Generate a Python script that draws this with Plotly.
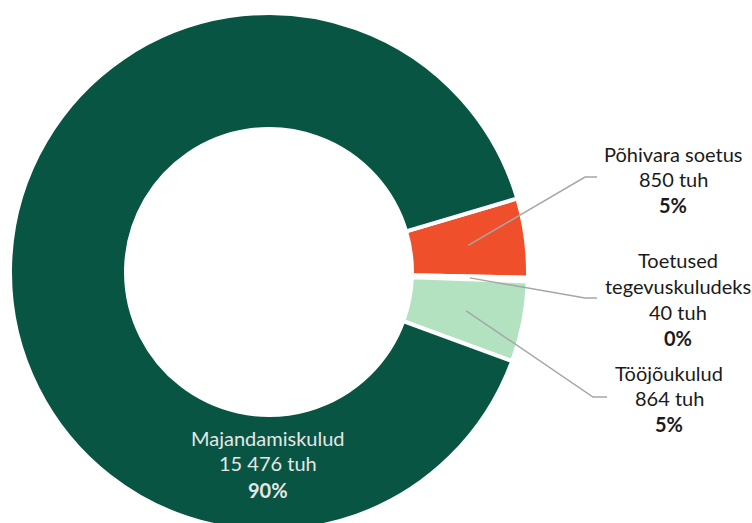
import math
import plotly.graph_objects as go

# ---- data ----
labels = ["Põhivara soetus", "Toetused tegevuskuludeks", "Tööjõukulud", "Majandamiskulud"]
label_lines = [["Põhivara soetus"], ["Toetused", "tegevuskuludeks"], ["Tööjõukulud"], ["Majandamiskulud"]]
values = [850, 40, 864, 15476]
colors = ["#F04F2B", "#E6E6E6", "#B2E2BF", "#085544"]

W, H = 752, 531
ROT = 73.5
HOLE = 0.552
# pie geometry in pixels (layout)
CX, CY, R = 269, 272, 259

total = sum(values)

def fmt(v):
    return f"{v:,}".replace(",", " ")

def pct(v):
    return f"{round(v / total * 100)}%"

fig = go.Figure(go.Pie(
    labels=labels,
    values=values,
    hole=HOLE,
    sort=False,
    direction="clockwise",
    rotation=ROT,
    textinfo="none",
    hoverinfo="label+value+percent",
    marker=dict(colors=colors, line=dict(color="white", width=4)),
    domain=dict(x=[(CX - R) / W, (CX + R) / W], y=[1 - (CY + R) / H, 1 - (CY - R) / H]),
    showlegend=False,
))

def px(x):
    return x / W

def py(y):
    return 1 - y / H

# anchors computed from data
r_mid = (HOLE * R + R) / 2
cum = 0
anchors = []
for v in values:
    frac = v / total
    mid = math.radians(ROT + (cum + frac / 2) * 360)
    anchors.append((CX + r_mid * math.sin(mid), CY - r_mid * math.cos(mid)))
    cum += frac

# label layout (positions)
label_cfg = {
    0: dict(x=673, ys=[154, 179, 205], elbow=(585, 177), end=(597, 177)),
    1: dict(x=678, ys=[260, 286, 312, 338], elbow=(585, 298), end=(597, 298)),
    2: dict(x=669, ys=[373, 398, 424], elbow=(593, 397), end=(607, 397)),
}

font_family = "Lato, Calibri, Carlito, sans-serif"
shapes = []
annotations = []
for i, cfg in label_cfg.items():
    ax, ay = anchors[i]
    ex, ey = cfg["elbow"]
    fx, fy = cfg["end"]
    shapes.append(dict(
        type="path", xref="paper", yref="paper",
        path=f"M {px(ax)} {py(ay)} L {px(ex)} {py(ey)} L {px(fx)} {py(fy)}",
        line=dict(color="#A6A6A6", width=1.5),
    ))
    lines = label_lines[i] + [f"{fmt(values[i])} tuh", f"<b>{pct(values[i])}</b>"]
    for txt, yy in zip(lines, cfg["ys"]):
        annotations.append(dict(
            x=px(cfg["x"]), y=py(yy), xref="paper", yref="paper",
            text=txt, showarrow=False, xanchor="center", yanchor="middle",
            font=dict(family=font_family, size=20, color="#1A1A1A"),
        ))

# inside label for the big slice
maj_lines = label_lines[3] + [f"{fmt(values[3])} tuh", f"<b>{pct(values[3])}</b>"]
for txt, yy in zip(maj_lines, [438, 463, 490]):
    annotations.append(dict(
        x=px(268), y=py(yy), xref="paper", yref="paper",
        text=txt, showarrow=False, xanchor="center", yanchor="middle",
        font=dict(family=font_family, size=20, color="#E6E6E6"),
    ))

fig.update_layout(
    width=W, height=H,
    margin=dict(l=0, r=0, t=0, b=0),
    paper_bgcolor="white",
    plot_bgcolor="white",
    shapes=shapes,
    annotations=annotations,
)

fig.write_html(
    "out.html",
    config={"displayModeBar": False},
    post_script="document.body.style.margin='0px';document.body.style.overflow='hidden';",
)
